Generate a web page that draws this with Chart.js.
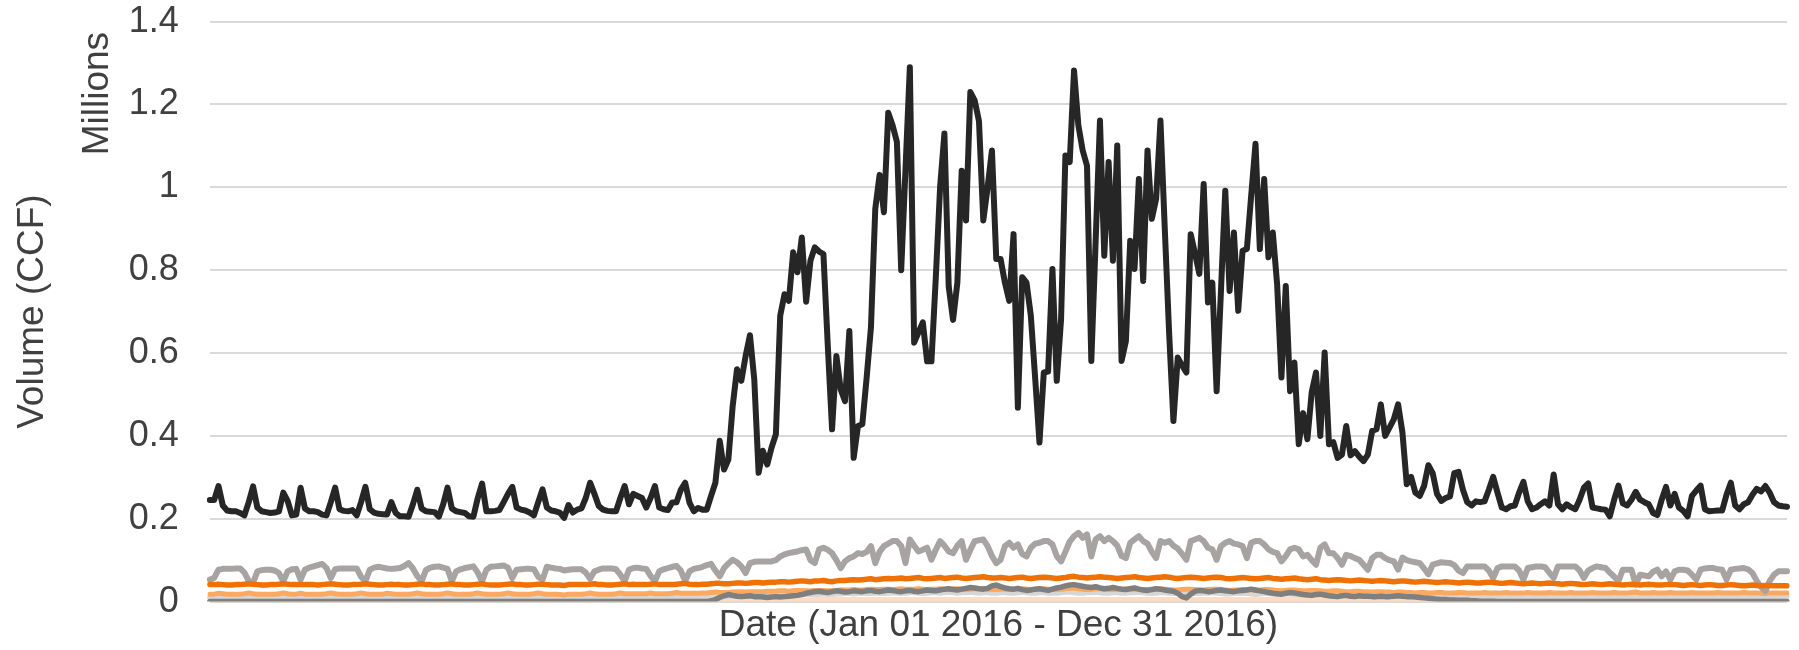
<!DOCTYPE html>
<html lang="en">
<head>
    <meta charset="UTF-8">
    <title>Daily Volume 2016</title>
    <style>
        body {
            margin: 0;
            background-color: #ffffff;
        }

        .chart-container {
            width: 1799px;
            height: 650px;
        }
    </style>
</head>
<body>

<div class="chart-container">
    <canvas id="volumeChart"></canvas>
</div>

<script src="https://cdn.jsdelivr.net/npm/chart.js"></script>
<script>
    // Daily volumes in thousands of CCF (the axis shows them in millions)
    const totalVolume = [
        245,245,279,232,220,218,218,214,208,240,278,227,218,216,
        214,215,218,263,243,208,210,275,225,218,218,216,210,208,
        240,275,223,219,218,221,208,240,277,223,215,212,211,210,
        240,214,206,206,205,235,270,225,218,217,216,205,235,275,
        225,218,216,214,206,205,250,285,218,218,219,221,240,260,
        277,227,222,220,215,208,240,271,227,220,218,215,202,233,
        215,222,225,250,287,260,231,222,219,218,218,250,279,235,
        260,255,250,227,250,279,227,223,221,239,240,270,287,239,
        218,226,222,222,255,287,388,319,343,472,561,533,593,643,
        536,311,364,331,372,404,690,742,726,843,795,879,724,823,
        855,845,839,620,416,593,512,484,653,347,424,428,540,662,
        948,1030,940,1180,1150,1110,800,1045,1290,625,650,674,580,580,
        780,1000,1130,760,680,770,1040,920,1230,1210,1160,920,1000,1089,
        827,827,770,726,887,468,783,770,690,540,384,553,555,803,
        533,682,1077,1061,1282,1150,1089,1052,581,870,1161,835,1061,823,
        1101,581,629,871,803,1020,774,1089,924,972,1161,900,650,436,
        589,570,553,887,840,791,1008,722,770,508,750,992,750,891,
        702,847,851,980,1105,851,1020,831,891,766,541,762,508,577,
        380,455,392,505,553,400,601,380,385,347,355,424,353,363,
        350,339,355,412,416,476,400,420,440,476,408,283,301,263,
        255,279,329,310,260,243,250,254,310,313,270,240,232,242,
        240,242,270,301,263,227,223,230,232,263,289,242,223,227,
        235,242,232,307,235,223,235,228,223,246,275,285,227,225,
        223,222,206,246,280,237,232,246,265,246,240,235,214,209,
        246,277,232,260,227,219,206,255,268,280,223,218,219,220,
        220,258,287,232,223,235,240,258,272,266,279,263,240,232,
        230,229
    ];

    const zoneA = [
        53,57,77,79,79,79,80,80,70,50,45,73,76,77,
        77,75,69,49,73,78,79,53,77,82,85,88,91,81,
        57,78,80,80,80,80,80,60,49,77,82,84,82,80,
        79,80,81,86,93,80,62,49,76,82,84,85,82,79,
        49,73,78,81,83,85,70,49,77,84,85,86,87,82,
        57,77,78,79,79,78,60,53,84,82,80,79,75,77,
        78,78,78,70,55,73,77,80,80,80,78,65,49,77,
        81,82,80,79,62,49,73,78,81,84,86,75,49,73,
        79,81,84,88,91,75,61,81,92,101,95,85,69,93,
        96,97,97,97,97,100,109,114,117,119,121,124,126,100,
        93,126,130,125,117,100,81,97,105,109,117,115,120,134,
        93,120,134,140,146,146,134,93,150,135,121,125,130,101,
        125,146,135,121,117,135,146,101,125,146,148,150,134,110,
        93,101,134,142,130,138,115,109,130,140,142,146,146,138,
        110,97,120,145,158,166,154,162,109,150,158,146,154,146,
        135,110,105,142,150,158,146,140,120,105,146,142,146,135,
        128,115,101,146,150,154,146,130,126,101,134,142,146,140,
        138,134,105,142,146,146,138,126,120,117,97,110,126,130,
        126,109,113,100,89,130,138,117,117,105,89,113,110,105,
        101,89,77,105,113,113,105,100,97,77,106,100,97,95,
        93,80,66,89,92,95,94,93,88,75,69,85,85,85,
        85,85,75,57,81,85,85,85,85,75,53,81,83,85,
        85,83,70,57,85,85,85,85,85,75,57,75,81,85,
        83,81,70,60,49,77,77,77,41,65,63,61,72,77,
        61,73,53,73,77,77,75,65,53,77,80,81,81,78,
        77,53,77,79,80,81,78,69,50,35,25,50,65,73,
        73,73
    ];

    const zoneB = [
        41,41,42,41,40,40,41,41,42,43,42,41,40,40,
        41,41,42,43,42,41,41,42,41,41,41,40,41,42,
        43,42,41,40,40,41,41,42,43,42,41,40,40,41,
        42,41,41,40,40,41,42,43,41,41,40,40,41,42,
        43,41,41,40,40,41,42,43,41,40,40,40,41,42,
        43,41,41,40,40,41,42,42,41,40,40,40,39,41,
        41,41,41,41,42,43,41,41,40,40,41,42,43,41,
        42,41,41,41,42,43,41,41,41,41,42,43,44,42,
        41,41,42,42,43,44,44,43,43,44,45,45,44,45,
        46,46,45,46,47,47,48,48,47,48,49,50,49,48,
        50,50,51,49,48,50,51,51,52,53,52,53,54,55,
        53,54,55,56,55,56,57,55,56,57,58,56,55,56,
        57,58,56,57,58,59,57,56,57,58,59,60,58,57,
        57,58,57,56,57,58,59,57,56,57,58,59,58,57,
        56,57,58,60,61,59,58,57,58,59,60,59,58,57,
        56,57,58,59,60,58,57,56,57,58,59,60,59,57,
        56,57,58,59,58,57,56,57,58,59,58,56,55,56,
        57,58,57,56,55,56,57,58,56,55,54,55,56,57,
        55,54,53,54,55,53,52,51,52,53,52,51,50,51,
        52,51,50,49,50,51,50,49,48,49,50,49,48,47,
        48,49,48,47,46,47,48,47,46,45,46,47,46,45,
        45,46,47,46,45,44,45,46,45,44,43,44,45,44,
        43,44,45,44,43,42,43,44,43,42,41,42,43,42,
        41,42,43,42,41,40,41,42,41,40,41,42,41,40,
        40,41,42,41,40,39,40,41,40,39,40,41,40,39,
        39,40,41,40,39,38,39,40,39,38,39,39,38,38,
        38,38
    ];

    const zoneC = [
        18,18,20,19,18,18,18,18,19,21,19,18,18,18,
        18,18,19,21,19,18,18,20,18,18,18,18,18,19,
        21,19,18,18,18,18,19,21,19,18,18,18,18,20,
        19,18,18,18,18,19,21,19,18,18,18,18,19,21,
        19,18,18,18,18,19,21,19,18,18,18,18,19,21,
        19,18,18,18,18,19,21,19,18,18,18,17,16,18,
        18,18,18,19,21,19,18,18,18,18,19,21,19,19,
        19,19,19,19,21,19,19,19,19,20,22,20,20,20,
        20,20,21,21,22,23,22,22,22,23,24,24,23,24,
        24,24,24,25,25,25,26,26,25,26,27,27,26,26,
        27,27,27,26,26,27,28,28,28,29,28,28,29,30,
        29,29,30,30,29,30,31,30,30,30,31,30,29,30,
        30,31,30,30,31,31,30,29,30,31,31,32,30,29,
        29,30,30,29,29,30,31,30,29,30,31,31,30,29,
        29,30,31,32,32,31,30,29,30,31,31,30,29,29,
        29,30,31,31,30,29,29,29,30,31,31,30,29,28,
        28,29,30,30,29,28,28,29,30,30,29,28,27,28,
        28,29,29,28,27,28,29,29,28,27,26,27,28,28,
        27,26,26,27,27,26,25,25,26,26,25,24,24,25,
        25,24,24,23,24,24,23,23,22,23,23,22,22,21,
        22,22,21,21,22,22,21,21,21,22,22,21,21,21,
        21,22,21,21,21,21,22,21,21,21,21,22,21,21,
        21,21,22,21,21,21,21,22,21,21,21,21,22,21,
        21,21,21,22,21,21,21,22,23,21,21,21,22,21,
        21,21,22,21,21,21,21,22,21,21,21,21,21,22,
        21,21,21,21,21,22,21,21,21,20,19,21,21,21,
        21,21
    ];

    const zoneD = [
        10,10,10,10,10,10,10,10,10,11,10,10,10,10,
        10,10,10,11,10,10,10,10,10,10,10,10,10,10,
        11,10,10,10,10,10,10,11,10,10,10,10,10,10,
        10,10,10,10,10,10,11,10,10,10,10,10,10,11,
        10,10,10,10,10,10,11,10,10,10,10,10,10,11,
        10,10,10,10,10,10,11,10,10,10,10,10,10,10,
        10,10,10,10,11,10,10,10,10,10,10,11,10,10,
        10,10,10,10,11,10,10,10,10,10,11,10,10,10,
        10,10,11,11,12,12,13,13,12,13,14,14,14,15,
        15,15,16,16,16,17,17,17,16,17,18,18,18,17,
        18,18,19,18,18,19,19,20,20,19,20,21,20,20,
        21,21,20,21,22,21,20,21,22,22,21,20,21,22,
        22,21,22,23,22,21,22,22,23,22,21,22,22,21,
        21,22,22,21,21,22,23,22,21,21,22,22,21,21,
        21,22,23,23,22,21,21,22,22,23,22,21,21,22,
        22,21,21,22,22,23,22,21,20,21,22,22,21,20,
        20,21,22,21,20,20,21,21,22,21,20,19,19,20,
        20,21,20,19,18,19,20,20,19,18,18,19,19,18,
        18,17,17,18,18,17,16,16,17,17,16,15,15,16,
        15,15,15,14,14,15,14,14,13,14,14,13,13,13,
        13,13,13,13,13,13,13,13,13,13,13,13,13,13,
        13,13,13,13,13,13,13,13,13,13,13,13,13,13,
        13,13,13,13,13,13,13,13,13,13,13,13,13,13,
        13,13,13,13,13,13,13,13,13,13,13,13,13,13,
        13,13,13,13,13,13,13,13,13,13,13,13,13,13,
        13,13,13,13,13,13,13,13,13,13,13,13,13,13,
        13,13
    ];

    const zoneE = [
        0,0,0,0,0,0,0,0,0,0,0,0,0,0,
        0,0,0,0,0,0,0,0,0,0,0,0,0,0,
        0,0,0,0,0,0,0,0,0,0,0,0,0,0,
        0,0,0,0,0,0,0,0,0,0,0,0,0,0,
        0,0,0,0,0,0,0,0,0,0,0,0,0,0,
        0,0,0,0,0,0,0,0,0,0,0,0,0,0,
        0,0,0,0,0,0,0,0,0,0,0,0,0,0,
        0,0,0,0,0,0,0,0,0,0,0,0,0,0,
        0,0,0,0,2,5,10,14,17,15,13,12,13,14,
        12,12,11,10,11,12,11,12,13,14,15,17,20,22,
        24,25,23,22,24,26,25,23,24,26,25,24,26,27,
        25,24,26,28,27,25,24,26,27,25,24,26,28,27,
        26,28,30,31,29,28,30,32,34,33,31,30,32,38,
        40,36,33,31,30,32,29,27,28,30,31,29,27,30,
        33,35,38,40,41,39,37,35,34,36,33,31,32,34,
        32,30,29,31,33,30,28,27,29,31,30,28,26,25,
        20,12,9,18,25,27,26,24,25,27,28,26,25,24,
        26,27,28,30,28,26,24,22,20,19,18,20,22,21,
        19,17,16,15,17,18,16,14,13,12,14,15,13,12,
        14,13,13,12,12,13,12,12,13,14,13,12,12,11,
        10,9,8,7,6,5,5,4,4,3,3,3,2,2,
        1,1,1,1,0,0,0,0,0,0,0,0,0,0,
        0,0,0,0,0,0,0,0,0,0,0,0,0,0,
        0,0,0,0,0,0,0,0,0,0,0,0,0,0,
        0,0,0,0,0,0,0,0,0,0,0,0,0,0,
        0,0,0,0,0,0,0,0,0,0,0,0,0,0,
        0,0
    ];

    const zoneF = [
        1,1,1,1,1,1,1,1,1,1,1,1,1,1,
        1,1,1,1,1,1,1,1,1,1,1,1,1,1,
        1,1,1,1,1,1,1,1,1,1,1,1,1,1,
        1,1,1,1,1,1,1,1,1,1,1,1,1,1,
        1,1,1,1,1,1,1,1,1,1,1,1,1,1,
        1,1,1,1,1,1,1,1,1,1,1,1,1,1,
        1,1,1,1,1,1,1,1,1,1,1,1,1,1,
        1,1,1,1,1,1,1,1,1,1,1,1,1,1,
        1,1,1,1,2,2,2,2,3,3,3,3,3,3,
        3,3,3,3,4,4,4,4,4,4,4,4,4,4,
        5,5,5,5,5,5,5,5,5,5,5,5,5,5,
        5,5,5,5,5,5,5,5,5,5,5,5,5,5,
        5,5,5,5,5,5,5,5,5,5,5,5,5,5,
        5,5,5,5,5,5,5,5,5,5,5,5,5,5,
        5,5,5,5,5,5,5,5,5,5,5,5,5,5,
        5,5,5,5,5,5,5,5,5,5,5,5,5,5,
        5,5,5,5,5,5,5,5,5,5,5,5,5,5,
        5,5,5,5,5,5,5,5,5,5,5,5,5,5,
        5,5,5,5,5,5,5,5,5,5,5,5,5,5,
        5,5,5,5,5,5,5,5,5,5,5,5,5,5,
        4,4,4,4,4,3,3,3,3,3,3,3,3,3,
        2,2,2,2,2,2,2,2,2,2,2,2,2,2,
        2,2,2,2,2,2,2,2,2,2,2,2,2,2,
        2,2,2,2,2,2,2,2,2,2,2,2,2,2,
        2,2,2,2,2,2,2,2,2,2,2,2,2,2,
        2,2,2,2,2,2,2,2,2,2,2,2,2,2,
        2,2
    ];

    // Y axis tick labels (millions), bottom to top
    const yTickLabels = ['0', '0.2', '0.4', '0.6', '0.8', '1', '1.2', '1.4'];

    // One category per day of 2016
    const dayLabels = [];
    for (let d = new Date(2016, 0, 1); d.getFullYear() === 2016; d.setDate(d.getDate() + 1)) {
        dayLabels.push(d.toDateString().slice(4));
    }

    Chart.defaults.font.family = "'Liberation Sans', Arial, sans-serif";
    Chart.defaults.color = '#404040';

    function line(data, color, width) {
        return {
            data: data,
            borderColor: color,
            backgroundColor: color,
            borderWidth: width,
            pointRadius: 0,
            tension: 0,
            fill: false,
            borderJoinStyle: 'round',
            borderCapStyle: 'round'
        };
    }

    // first dataset is drawn on top
    const datasets = [
        line(totalVolume, '#262626', 6),
        line(zoneB, '#ef7104', 5.5),
        line(zoneA, '#a7a3a3', 6),
        line(zoneE, '#7f7f7f', 5.5),
        line(zoneC, '#fba860', 5),
        line(zoneD, '#d6d6d6', 5.5),
        line(zoneF, '#fcdcc4', 5)
    ];

    const axisTitleFont = { size: 37 };

    const config = {
        type: 'line',
        data: {
            labels: dayLabels,
            datasets: datasets
        },
        options: {
            responsive: true,
            maintainAspectRatio: false,
            animation: false,
            events: [],
            layout: {
                padding: { left: 0, right: 12, top: 2, bottom: 0 }
            },
            plugins: {
                legend: { display: false },
                tooltip: { enabled: false }
            },
            scales: {
                x: {
                    ticks: { display: false },
                    grid: { display: false, drawTicks: false },
                    border: { display: false },
                    title: {
                        display: true,
                        text: 'Date (Jan 01 2016 - Dec 31 2016)',
                        font: axisTitleFont,
                        padding: { top: 2, bottom: 2 }
                    }
                },
                y: {
                    position: 'left',
                    weight: 0,
                    min: 0,
                    max: 1400,
                    ticks: {
                        stepSize: 200,
                        padding: 0,
                        font: { size: 36 },
                        callback: function(value, index) {
                            return yTickLabels[index];
                        }
                    },
                    // invisible tick marks keep the labels clear of the plot
                    grid: {
                        color: '#d9d9d9',
                        lineWidth: 2,
                        drawTicks: true,
                        tickLength: 31,
                        tickColor: 'rgba(0,0,0,0)'
                    },
                    border: { display: false }
                },
                yUnits: {
                    position: 'left',
                    weight: 1,
                    ticks: { display: false },
                    grid: { display: false, drawTicks: false },
                    border: { display: false },
                    title: {
                        display: true,
                        text: 'Millions ',
                        align: 'end',
                        font: axisTitleFont,
                        padding: { top: 20, bottom: 9 }
                    }
                },
                yTitle: {
                    position: 'left',
                    weight: 2,
                    ticks: { display: false },
                    grid: { display: false, drawTicks: false },
                    border: { display: false },
                    title: {
                        display: true,
                        text: 'Volume (CCF)',
                        font: axisTitleFont,
                        padding: { top: 11, bottom: 0 }
                    }
                }
            }
        }
    };

    const volumeChart = new Chart(document.getElementById('volumeChart'), config);
</script>

</body>
</html>
